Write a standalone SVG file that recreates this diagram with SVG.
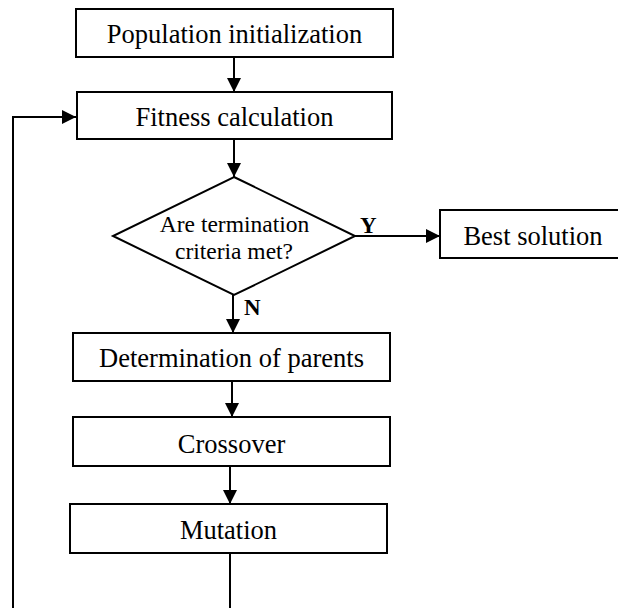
<svg xmlns="http://www.w3.org/2000/svg" width="618" height="608" viewBox="0 0 618 608">
<style>
.box{fill:#fff;stroke:#000;stroke-width:2}
.t{font-family:"Liberation Serif","Times New Roman",serif;font-size:26.5px;text-anchor:middle;fill:#000}
.d{font-family:"Liberation Serif","Times New Roman",serif;font-size:23.5px;text-anchor:middle;fill:#000}
.b{font-family:"Liberation Serif","Times New Roman",serif;font-size:23px;font-weight:bold;fill:#000}
.c{fill:none;stroke:#000;stroke-width:2}
</style>
<defs>
<marker id="ah2" markerWidth="14" markerHeight="14" refX="14" refY="7" orient="auto" markerUnits="userSpaceOnUse">
<path d="M0,0 L14,7 L0,14 Z" fill="#000"/>
</marker>
</defs>
<g id="connectors">
<line class="c" x1="234" y1="57" x2="234" y2="92" marker-end="url(#ah2)"/>
<line class="c" x1="234" y1="139" x2="234" y2="177" marker-end="url(#ah2)"/>
<line class="c" x1="355" y1="236" x2="440" y2="236" marker-end="url(#ah2)"/>
<line class="c" x1="233" y1="295" x2="233" y2="333" marker-end="url(#ah2)"/>
<line class="c" x1="232" y1="381" x2="232" y2="417" marker-end="url(#ah2)"/>
<line class="c" x1="230" y1="466" x2="230" y2="504" marker-end="url(#ah2)"/>
<line class="c" x1="230" y1="553" x2="230" y2="610"/>
<polyline class="c" points="13,610 13,117 76,117" marker-end="url(#ah2)"/>
<text class="b" x="360" y="233">Y</text>
<text class="b" x="244" y="315">N</text>
</g>
<g id="n1">
<rect class="box" x="76" y="9" width="317" height="48"/>
<text class="t" x="234.5" y="43">Population initialization</text>
</g>
<g id="n2">
<rect class="box" x="77" y="92" width="315" height="47"/>
<text class="t" x="234.5" y="126">Fitness calculation</text>
</g>
<g id="n3">
<polygon class="box" points="234,177 355,236 234,295 113,236"/>
<text class="d" x="234.5" y="232">Are termination</text>
<text class="d" x="234" y="259">criteria met?</text>
</g>
<g id="n4">
<rect class="box" x="440" y="210" width="182" height="48"/>
<text class="t" x="533" y="245">Best solution</text>
</g>
<g id="n5">
<rect class="box" x="73" y="333" width="317" height="48"/>
<text class="t" x="231.5" y="367">Determination of parents</text>
</g>
<g id="n6">
<rect class="box" x="73" y="417" width="317" height="49"/>
<text class="t" x="231.5" y="453">Crossover</text>
</g>
<g id="n7">
<rect class="box" x="70" y="504" width="317" height="49"/>
<text class="t" x="228.5" y="539">Mutation</text>
</g>
</svg>
